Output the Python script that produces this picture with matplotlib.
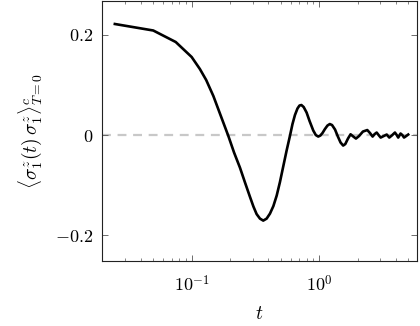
import numpy as np
import matplotlib
matplotlib.use("Agg")
import matplotlib.pyplot as plt

plt.rcParams["mathtext.fontset"] = "cm"
plt.rcParams["font.family"] = "serif"
plt.rcParams["font.serif"] = ["cmr10", "DejaVu Serif"]
plt.rcParams["axes.formatter.use_mathtext"] = True

# data
t = [0.025, 0.05, 0.075, 0.1, 0.116, 0.13, 0.148, 0.17, 0.194, 0.215,
     0.239, 0.262, 0.286, 0.305, 0.323, 0.343, 0.364, 0.387, 0.411, 0.437,
     0.464, 0.492, 0.522, 0.555, 0.589, 0.617, 0.645, 0.675, 0.70, 0.725,
     0.755, 0.796, 0.84, 0.898, 0.94, 0.982, 1.02, 1.06, 1.108, 1.16,
     1.21, 1.26, 1.33, 1.40, 1.47, 1.54, 1.60, 1.68, 1.76, 1.85,
     1.94, 2.05, 2.2, 2.38, 2.5, 2.62, 2.72, 2.82, 2.92, 3.03,
     3.2, 3.38, 3.54, 3.7, 3.92, 4.05, 4.16, 4.34, 4.48, 4.62,
     4.8, 4.98]
corr = [0.222, 0.209, 0.186, 0.156, 0.132, 0.110, 0.078, 0.037, -0.002, -0.035,
        -0.065, -0.095, -0.123, -0.143, -0.158, -0.167, -0.171, -0.167, -0.157, -0.142,
        -0.121, -0.094, -0.063, -0.031, -0.002, 0.022, 0.040, 0.053, 0.059, 0.060,
        0.056, 0.045, 0.028, 0.009, 0.000, -0.003, -0.001, 0.004, 0.012, 0.019,
        0.022, 0.020, 0.011, -0.003, -0.015, -0.021, -0.018, -0.007, 0.0015, -0.003,
        -0.007, -0.002, 0.007, 0.010, 0.004, -0.003, 0.002, 0.005, 0.0, -0.005,
        -0.002, 0.001, -0.005, -0.001, 0.005, 0.0, -0.005, 0.003, 0.0, -0.005,
        -0.002, 0.001]

xticks = [0.1, 1]
xticklabels = [r"$10^{-1}$", r"$10^{0}$"]
yticks = [-0.2, 0, 0.2]
yticklabels = [r"$-0.2$", r"$0$", r"$0.2$"]

fig = plt.figure(figsize=(4.2, 3.26), dpi=100)
ax = fig.add_axes([0.242, 0.199, 0.75, 0.798])

ax.axhline(0, color="#c8c8c8", lw=1.6, dashes=(4, 3), zorder=1)
ax.plot(t, corr, color="black", lw=1.9, solid_joinstyle="round", zorder=2)

ax.set_xscale("log")
ax.set_xlim(0.0197, 5.8)
ax.set_ylim(-0.252, 0.268)

ax.set_xticks(xticks)
ax.set_xticklabels(xticklabels, fontsize=13)
ax.set_yticks(yticks)
ax.set_yticklabels(yticklabels, fontsize=13)
ax.tick_params(which="both", direction="in", top=True, right=True, color="#555555")
ax.tick_params(which="major", length=4.5, width=0.6, pad=6)
ax.tick_params(axis="x", which="major", pad=9)
ax.tick_params(which="minor", length=2.5, width=0.5)
ax.minorticks_on()
ax.yaxis.set_minor_locator(matplotlib.ticker.NullLocator())
ax.xaxis.set_minor_formatter(matplotlib.ticker.NullFormatter())
for s in ax.spines.values():
    s.set_linewidth(0.8)
    s.set_color("#222222")

ax.set_xlabel(r"$t$", fontsize=14, labelpad=8)
ax.set_ylabel(r"$\langle\sigma_1^z(t)\,\sigma_1^z\rangle_{T=0}^{c}$", fontsize=14, labelpad=8)

fig.savefig("out.png", dpi=100)
